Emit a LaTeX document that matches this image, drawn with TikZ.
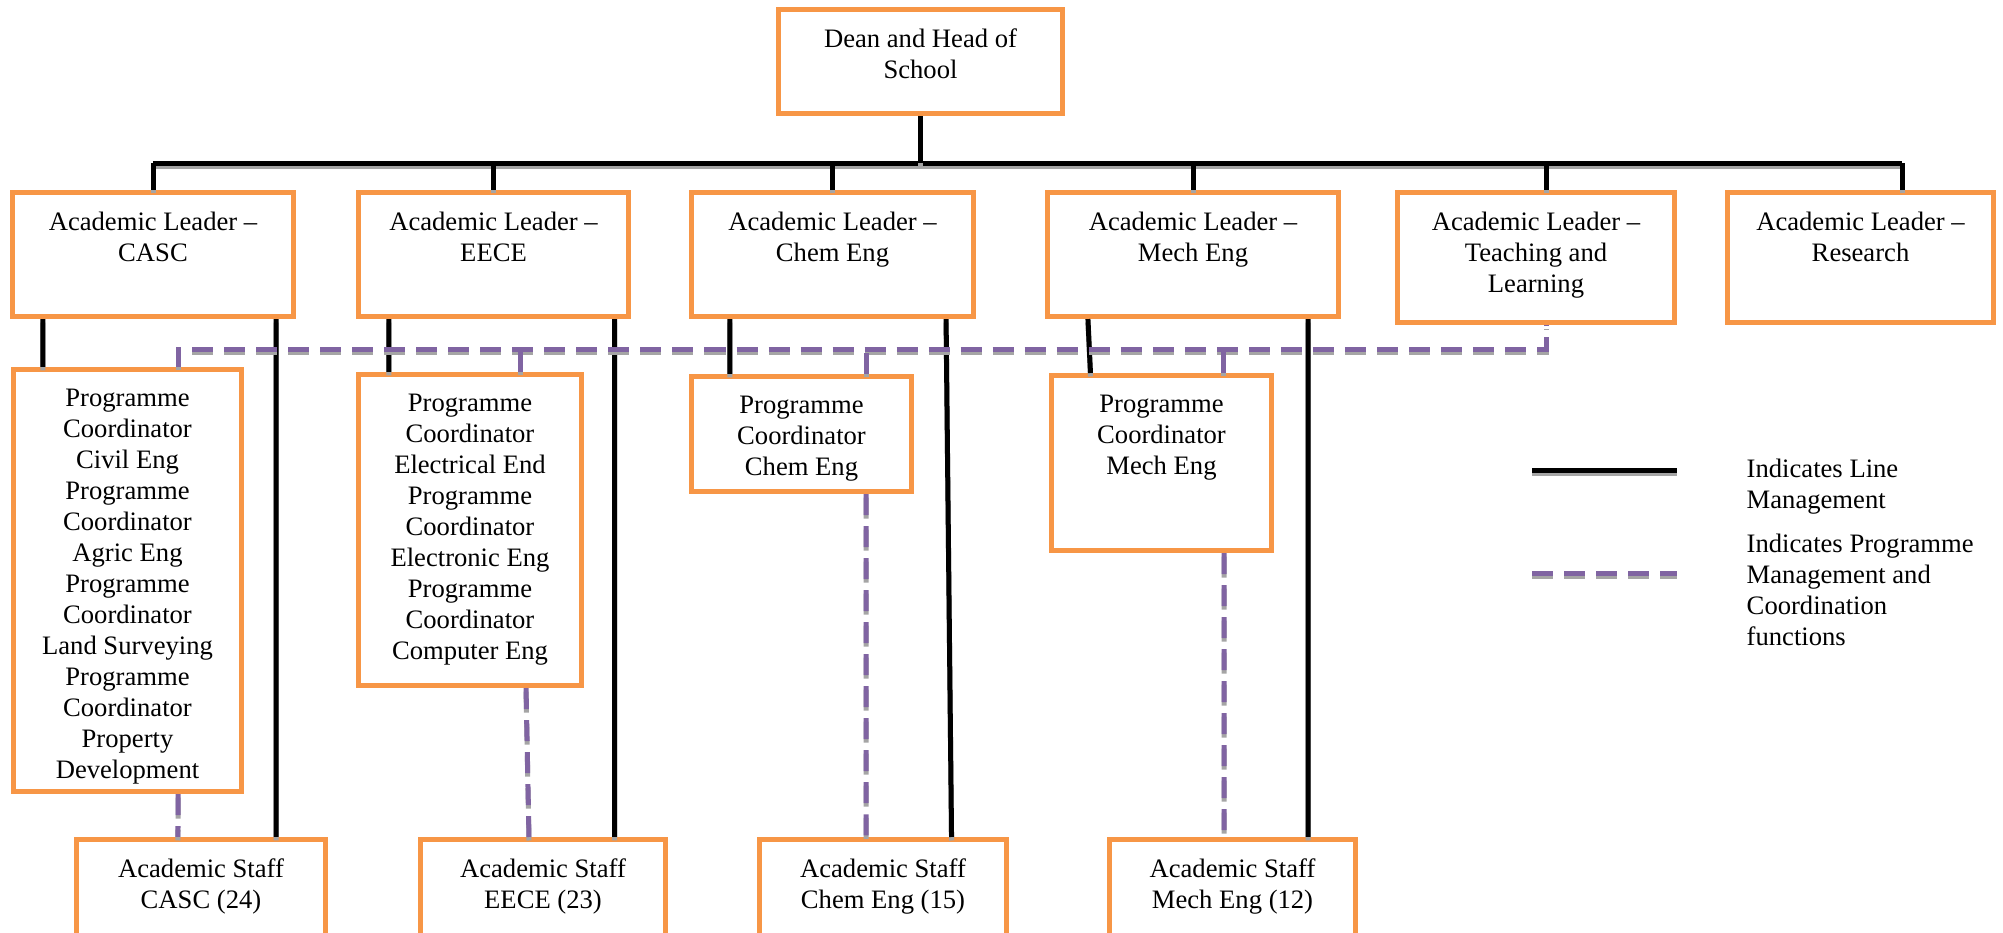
\documentclass[tikz,border=0pt]{standalone}
\usepackage{fontspec}
\setmainfont{Liberation Serif}
\usetikzlibrary{positioning}
\definecolor{orgorange}{RGB}{247,150,70}
\definecolor{orgpurple}{RGB}{128,100,162}
\definecolor{shadegray}{RGB}{165,165,165}
\newcommand{\orgfont}{\fontsize{7.57pt}{8.82pt}\selectfont}

\begin{document}
\begin{tikzpicture}[
  x=0.01cm, y=-0.01cm,
  every node/.style={inner sep=1pt, font=\orgfont},
  unitbox/.style={draw=orgorange, line width=0.05cm, fill=white, inner sep=0pt},
  lbl/.style={anchor=north, align=center, yshift=-0.175cm},
  % solid black line management, dashed purple coordination, both with a grey drop shadow
  mline/.style={draw=black, line width=0.05cm,
    preaction={draw=shadegray, line width=0.05cm, transform canvas={yshift=-0.035cm}}},
  cline/.style={draw=orgpurple, line width=0.05cm, dash pattern=on 0.21cm off 0.11cm,
    preaction={draw=shadegray, line width=0.05cm, dash pattern=on 0.21cm off 0.11cm,
      transform canvas={yshift=-0.035cm}}}]

  \useasboundingbox (0,0) rectangle (2003,932);

  % boxes
  \node[unitbox, minimum width=2.84cm, minimum height=1.04cm,
    label={[lbl]north:Dean and Head of\\School}] (dean) at (920.5,61.5) {};

  \node[unitbox, minimum width=2.81cm, minimum height=1.24cm,
    label={[lbl]north:Academic Leader --\\CASC}] (lcasc) at (153,254.5) {};
  \node[unitbox, minimum width=2.70cm, minimum height=1.24cm,
    label={[lbl]north:Academic Leader --\\EECE}] (leece) at (493.5,254.5) {};
  \node[unitbox, minimum width=2.81cm, minimum height=1.24cm,
    label={[lbl]north:Academic Leader --\\Chem Eng}] (lchem) at (832.5,254.5) {};
  \node[unitbox, minimum width=2.90cm, minimum height=1.24cm,
    label={[lbl]north:Academic Leader --\\Mech Eng}] (lmech) at (1193,254.5) {};
  \node[unitbox, minimum width=2.77cm, minimum height=1.30cm,
    label={[lbl]north:Academic Leader --\\Teaching and\\Learning}] (lteach) at (1536,257.5) {};
  \node[unitbox, minimum width=2.66cm, minimum height=1.30cm,
    label={[lbl]north:Academic Leader --\\Research}] (lres) at (1860.5,257.5) {};

  \node[unitbox, minimum width=2.28cm, minimum height=4.22cm,
    label={[lbl]north:Programme\\Coordinator\\Civil Eng\\Programme\\Coordinator\\Agric Eng\\Programme\\Coordinator\\Land Surveying\\Programme\\Coordinator\\Property\\Development}] (ccasc) at (127.5,580.5) {};
  \node[unitbox, minimum width=2.23cm, minimum height=3.11cm,
    label={[lbl]north:Programme\\Coordinator\\Electrical End\\Programme\\Coordinator\\Electronic Eng\\Programme\\Coordinator\\Computer Eng}] (ceece) at (470,530) {};
  \node[unitbox, minimum width=2.20cm, minimum height=1.15cm,
    label={[lbl]north:Programme\\Coordinator\\Chem Eng}] (cchem) at (801.5,434) {};
  \node[unitbox, minimum width=2.20cm, minimum height=1.75cm,
    label={[lbl]north:Programme\\Coordinator\\Mech Eng}] (cmech) at (1161.5,463) {};

  \node[unitbox, minimum width=2.49cm, minimum height=0.98cm,
    label={[lbl]north:Academic Staff\\CASC (24)}] (scasc) at (201,888.5) {};
  \node[unitbox, minimum width=2.45cm, minimum height=0.98cm,
    label={[lbl]north:Academic Staff\\EECE (23)}] (seece) at (543,888.5) {};
  \node[unitbox, minimum width=2.47cm, minimum height=0.98cm,
    label={[lbl]north:Academic Staff\\Chem Eng (15)}] (schem) at (883,888.5) {};
  \node[unitbox, minimum width=2.46cm, minimum height=0.98cm,
    label={[lbl]north:Academic Staff\\Mech Eng (12)}] (smech) at (1232.5,888.5) {};

  % line management
  \coordinate (bus) at (0,163);
  \coordinate (tdrop) at ([xshift=0.1cm]lteach.north);
  \coordinate (rdrop) at ([xshift=0.415cm]lres.north);
  \draw[mline] (lcasc.north |- bus) -- (rdrop |- bus);
  \draw[mline] (dean.south) -- (dean.south |- bus);
  \draw[mline] (lcasc.north |- bus) -- (lcasc.north);
  \draw[mline] (leece.north |- bus) -- (leece.north);
  \draw[mline] (lchem.north |- bus) -- (lchem.north);
  \draw[mline] (lmech.north |- bus) -- (lmech.north);
  \draw[mline] (tdrop |- bus) -- (tdrop);
  \draw[mline] (rdrop |- bus) -- (rdrop);

  \draw[mline] ([xshift=-1.10cm]lcasc.south) -- ([xshift=-0.845cm]ccasc.north);
  \draw[mline] ([xshift=1.23cm]lcasc.south) -- ([xshift=0.75cm]scasc.north);
  \draw[mline] ([xshift=-1.045cm]leece.south) -- ([xshift=-0.81cm]ceece.north);
  \draw[mline] ([xshift=1.21cm]leece.south) -- ([xshift=0.715cm]seece.north);
  \draw[mline] ([xshift=-1.025cm]lchem.south) -- ([xshift=-0.715cm]cchem.north);
  \draw[mline] ([xshift=1.135cm]lchem.south) -- ([xshift=0.685cm]schem.north);
  \draw[mline] ([xshift=-1.05cm]lmech.south) -- ([xshift=-0.71cm]cmech.north);
  \draw[mline] ([xshift=1.15cm]lmech.south) -- ([xshift=0.755cm]smech.north);

  % programme coordination
  \coordinate (pbus) at (0,349);
  \coordinate (tup) at ([xshift=0.1cm]lteach.south);
  \draw[cline] ([xshift=0.505cm]ccasc.north) |- (tup |- pbus) -- (tup);
  \draw[cline] ([xshift=0.5cm]ceece.north) -- ++(0,-23);
  \draw[cline] ([xshift=0.645cm]cchem.north) -- ++(0,-25);
  \draw[cline] ([xshift=0.615cm]cmech.north) -- ++(0,-24);

  \draw[cline] ([xshift=0.505cm]ccasc.south) -- ([xshift=-0.23cm]scasc.north);
  \draw[cline] ([xshift=0.56cm]ceece.south) -- ([xshift=-0.14cm]seece.north);
  \draw[cline] ([xshift=0.645cm]cchem.south) -- ([xshift=-0.17cm]schem.north);
  \draw[cline] ([xshift=0.625cm]cmech.south) -- ([xshift=-0.085cm]smech.north);

  % legend
  \draw[mline] (1532,470) -- (1677,470);
  \draw[cline] (1532,573) -- (1677,573);
  \node[anchor=north west, align=left] (lgline) at (1742.5,455) {Indicates Line\\Management};
  \node[anchor=north west, align=left] (lgcoord) at (1742.5,530) {Indicates Programme\\Management and\\Coordination\\functions};
\end{tikzpicture}
\end{document}
